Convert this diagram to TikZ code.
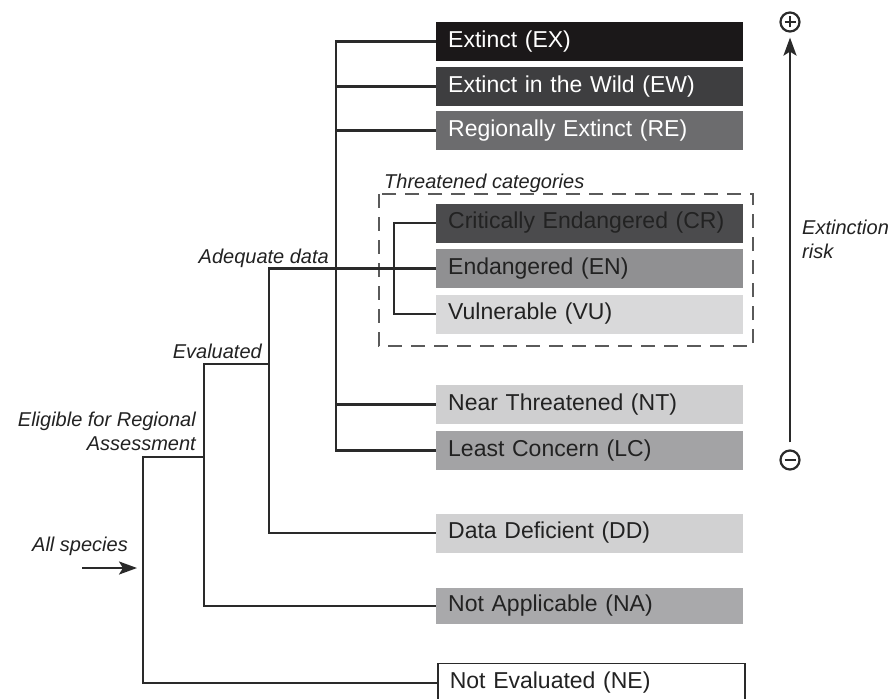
\documentclass[tikz,border=0pt]{standalone}
\usepackage{fontspec}
\setmainfont{Liberation Sans}
\usetikzlibrary{
  arrows.meta,
  positioning,
  calc
}
\definecolor{ink}{HTML}{222222}
\definecolor{lineink}{HTML}{2A2A2A}
\definecolor{frameink}{HTML}{5A5A5A}
\definecolor{greyEX}{HTML}{1B1819}
\definecolor{greyEW}{HTML}{3E3E40}
\definecolor{greyRE}{HTML}{6C6C6E}
\definecolor{greyCR}{HTML}{4B4B4D}
\definecolor{greyEN}{HTML}{909092}
\definecolor{greyVU}{HTML}{D9D9DA}
\definecolor{greyNT}{HTML}{CFCFD0}
\definecolor{greyLC}{HTML}{A3A3A5}
\definecolor{greyDD}{HTML}{D1D1D2}
\definecolor{greyNA}{HTML}{A9A9AB}
\tikzset{
  >={Stealth[length=18pt,width=13pt,inset=4pt]},
  every picture/.style={line cap=butt, line join=miter},
  cat/.style={
    anchor=west,
    text width=283pt,
    inner xsep=12pt,
    inner ysep=0pt,
    minimum height=39pt,
    align=left,
    font=\fontsize{23}{27}\selectfont,
    text=ink
  },
  catdark/.style={cat, text=white},
  branch/.style={draw=lineink, line width=2.4pt},
  annot/.style={font=\fontsize{20}{24}\selectfont\itshape, text=ink, inner sep=0pt},
  pole/.style={circle, draw=lineink, line width=2.2pt, minimum size=19pt, inner sep=0pt},
  riskarrow/.style={->, line width=2.4pt, draw=lineink}
}

\begin{document}
\begin{tikzpicture}[x=1pt, y=-1pt]
  \fill[white] (0,0) rectangle (890,698);
  \useasboundingbox (0,0) rectangle (890,698);

  % Category boxes
  \node[catdark, fill=greyEX] (ex) at (436,41.5) {Extinct (EX)};
  \node[catdark, fill=greyEW] (ew) at (436,86.5) {Extinct in the Wild (EW)};
  \node[catdark, fill=greyRE] (re) at (436,130.5) {Regionally Extinct (RE)};
  \node[cat, fill=greyCR] (cr) at (436,223) {Critically Endangered (CR)};
  \node[cat, fill=greyEN] (en) at (436,268.5) {Endangered (EN)};
  \node[cat, fill=greyVU] (vu) at (436,314) {Vulnerable (VU)};
  \node[cat, fill=greyNT] (nt) at (436,404.5) {Near Threatened (NT)};
  \node[cat, fill=greyLC] (lc) at (436,450.5) {Least Concern (LC)};
  \node[cat, fill=greyDD] (dd) at (436,533) {Data Deficient (DD)};
  \node[cat, fill=greyNA, minimum height=36pt] (na) at (436,606) {Not Applicable (NA)};
  \node[cat, fill=white, draw=lineink, line width=1.6pt] (ne) at (437,683) {Not Evaluated (NE)};

  % Threatened frame
  \draw[frameink, line width=2.2pt, dash pattern=on 14pt off 9pt] (379,194) rectangle (753,346);
  \node[annot, anchor=base west] (thrlabel) at (384,188) {Threatened categories};

  % Branching tree
  \coordinate (trunk) at (336,41.5);
  \draw[branch] (ex.west) -- (trunk) |- (lc.west);
  \foreach \c in {ew,re,nt}
    \draw[branch] (trunk |- \c.west) -- (\c.west);

  \coordinate (thr) at (394,223);
  \draw[branch] (cr.west) -- (thr) |- (vu.west);

  \coordinate (adq) at (269,268.5);
  \draw[branch] (en.west) -- (adq) |- (dd.west);

  \coordinate (evl) at (204,364);
  \draw[branch] (adq |- evl) -- (evl) |- (na.west);

  \coordinate (elg) at (143,457);
  \draw[branch] (evl |- elg) -- (elg) |- (ne.west);

  \coordinate (allsp) at (82,568);
  \draw[branch, ->, shorten >=6pt] (allsp) -- (elg |- allsp);

  % Branch labels
  \node[annot, anchor=base east] (adqlabel) at (329,263) {Adequate data};
  \node[annot, anchor=base east] (evllabel) at (262,358) {Evaluated};
  \node[annot, anchor=east, align=right] (elglabel) at (196,431) {Eligible for Regional\\Assessment};
  \node[annot, anchor=base east] (alllabel) at (128,551) {All species};

  % Extinction risk scale
  \node[pole] (hi) at (790,22) {};
  \node[pole] (lo) at (790,460) {};
  \draw[lineink, line width=2.4pt] ([xshift=-5.5pt]hi.center) -- ([xshift=5.5pt]hi.center)
    ([yshift=-5.5pt]hi.center) -- ([yshift=5.5pt]hi.center);
  \draw[lineink, line width=2.4pt] ([xshift=-5.5pt]lo.center) -- ([xshift=5.5pt]lo.center);
  \draw[riskarrow, shorten >=5pt, shorten <=7pt] (lo) -- (hi);
  \node[annot, anchor=west, align=left] (risklabel) at (802,239) {Extinction\\risk};
\end{tikzpicture}
\end{document}
